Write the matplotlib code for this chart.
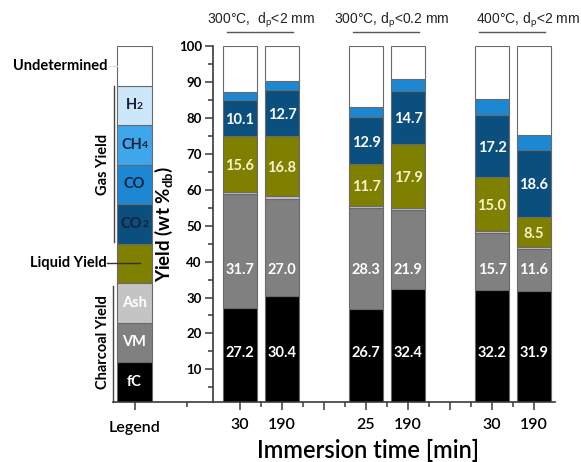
import matplotlib
matplotlib.use('Agg')
import matplotlib.pyplot as plt
import numpy as np
from matplotlib.transforms import blended_transform_factory

plt.rcParams['font.family'] = ['Lato', 'DejaVu Sans']
plt.rcParams['mathtext.fontset'] = 'custom'
plt.rcParams['mathtext.rm'] = 'Lato'
plt.rcParams['mathtext.it'] = 'Lato:italic'
plt.rcParams['mathtext.bf'] = 'Lato:bold'

# ---------------- data ----------------
times = ['30', '190', '25', '190', '30', '190']
groups = ['300°C,  d$_\\mathrm{p}$<2 mm', '300°C, d$_\\mathrm{p}$<0.2 mm', '400°C, d$_\\mathrm{p}$<2 mm']
fc = [27.2, 30.4, 26.7, 32.4, 32.2, 31.9]
vm = [31.7, 27.0, 28.3, 21.9, 15.7, 11.6]
ash = [0.4, 0.8, 0.5, 0.6, 0.6, 0.5]
liquid = [15.6, 16.8, 11.7, 17.9, 15.0, 8.5]
co2 = [10.1, 12.7, 12.9, 14.7, 17.2, 18.6]
co = [2.1, 2.6, 3.0, 3.2, 4.5, 4.1]

legend_items = ['fC', 'VM', 'Ash', 'Liquid', 'CO2', 'CO', 'CH4', 'H2', 'Undetermined']
legend_main = ['fC', 'VM', 'Ash', '', 'CO', 'CO', 'CH', 'H', '']
legend_sub = ['', '', '', '', '2', '', '4', '2', '']

# ---------------- styles ----------------
C = {'fC': '#000000', 'VM': '#808080', 'Ash': '#c4c4c4', 'Liquid': '#7f7f00',
     'CO2': '#0b4f7e', 'CO': '#1c88d4', 'CH4': '#3ea6ea', 'H2': '#cde7fa',
     'Undetermined': '#ffffff'}
txtcol = {'fC': 'white', 'VM': 'white', 'Ash': 'white', 'Liquid': 'white',
          'CO2': '#1a1f3a', 'CO': '#1a1f3a', 'CH4': '#1a1f3a', 'H2': '#1a1f3a',
          'Undetermined': 'k'}
EDGE = '#6a6a6a'
AX = '#3a3a3a'

W, H = 581, 462
fig = plt.figure(figsize=(W / 100, H / 100), dpi=100)
bot = (H - 401.7) / H
hgt = (401.7 - 46) / H
ax = fig.add_axes([213 / W, bot, (555 - 213) / W, hgt])
lax = fig.add_axes([113 / W, bot, 100 / W, hgt])

# ---------------- main bars ----------------
fc_a, vm_a, ash_a, liq_a, co2_a, co_a = map(np.array, (fc, vm, ash, liquid, co2, co))
und_a = 100 - (fc_a + vm_a + ash_a + liq_a + co2_a + co_a)
xpos = np.array([g * 3 + k for g in range(3) for k in range(2)])
bw = 0.83
stack = [('fC', fc_a), ('VM', vm_a), ('Ash', ash_a), ('Liquid', liq_a),
         ('CO2', co2_a), ('CO', co_a), ('Undetermined', und_a)]
bottom = np.zeros(len(xpos))
for name, vals in stack:
    ax.bar(xpos, vals, bw, bottom=bottom, color=C[name], edgecolor=EDGE,
           linewidth=0.8, zorder=2)
    if name in ('fC', 'VM', 'Liquid', 'CO2'):
        for x, b, v in zip(xpos, bottom, vals):
            if name == 'fC':
                y = 14.5
            elif name == 'VM':
                y = 37.6
            else:
                y = b + v / 2 - 0.6
            col = '#f4f4cc' if name == 'Liquid' else 'white'
            ax.text(x, y, f'{v:.1f}', ha='center', va='center', color=col,
                    fontsize=10.5, fontweight='bold', zorder=3)
    bottom = bottom + vals

ax.set_xlim(-0.643, 7.5)
ax.set_ylim(1, 100)
for s in ('top', 'right'):
    ax.spines[s].set_visible(False)
for s in ('left', 'bottom'):
    ax.spines[s].set_color(AX)
    ax.spines[s].set_linewidth(1.2)
ax.set_yticks(np.arange(10, 101, 10))
ax.set_yticks(np.arange(5, 100, 10), minor=True)
ax.set_yticklabels([str(v) for v in range(10, 101, 10)], fontweight='bold', fontsize=9.5)
lbls = [''] * 8
for x, t in zip(xpos, times):
    lbls[x] = t
ax.set_xticks(np.arange(8))
ax.set_xticklabels(lbls, fontsize=11.5, fontweight='semibold')
ax.set_xticks(np.arange(0.5, 7, 1), minor=True)
ax.tick_params(which='major', direction='out', length=6, width=1.1, color=AX, pad=2)
ax.tick_params(which='minor', direction='out', length=3.5, width=1.1, color=AX)
ax.tick_params(axis='x', which='major', pad=6)
ax.set_ylabel('Yield (wt %$_{\\mathbf{db}}$)', fontsize=13.5, fontweight='bold', labelpad=3)
ax.set_xlabel('Immersion time [min]', fontsize=17, fontweight='semibold')
ax.xaxis.set_label_coords((368 - 213) / 342, -0.105)

# group headers
tr = blended_transform_factory(ax.transData, fig.transFigure)
hdr_dx = [0.0, 0.12, 0.36]
for g, lab in enumerate(groups):
    cx = g * 3 + 0.5
    ax.text(cx + hdr_dx[g], 1 - 20 / H, lab, transform=tr, ha='center', va='center',
            fontsize=10, family=['Liberation Sans', 'DejaVu Sans'], color='#222222')
    ax.plot([cx - 0.8, cx + 0.75], [1 - 32 / H] * 2, transform=tr, color='#555555',
            lw=1, clip_on=False)

# ---------------- legend bar ----------------
for i, name in enumerate(legend_items):
    lax.bar(21.5, 1, 35, bottom=i, color=C[name], edgecolor=EDGE, linewidth=0.8)
    if legend_main[i]:
        xc = 21.5 - (3 if legend_sub[i] else 0)
        t = lax.text(xc, i + 0.5, legend_main[i], ha='center', va='center',
                     color=txtcol[name], fontsize=10.5, fontweight='bold')
        if legend_sub[i]:
            lax.annotate(legend_sub[i], xy=(1.0, 0.12), xycoords=t, ha='left',
                         va='bottom', color=txtcol[name], fontsize=7.5,
                         fontweight='bold')
lax.set_xlim(0, 100)
lax.set_ylim(0, 9)
for s in ('top', 'right', 'left'):
    lax.spines[s].set_visible(False)
lax.spines['bottom'].set_color(AX)
lax.spines['bottom'].set_linewidth(1.2)
lax.set_yticks([])
lax.set_xticks([22])
lax.set_xticklabels(['Legend'], fontsize=11.5, fontweight='semibold')
lax.set_xticks([74], minor=True)
lax.tick_params(which='major', direction='out', length=6, width=1.1, color=AX, pad=8)
lax.tick_params(which='minor', direction='out', length=3.5, width=1.1, color=AX)
lax.patch.set_alpha(0)

# brackets & group labels
lax.plot([1, 1], [4.05, 7.98], color='#444444', lw=1, clip_on=False)
lax.plot([0, 0], [0, 2.93], color='#444444', lw=1, clip_on=False)
lax.text(-10, 6, 'Gas Yield', rotation=90, ha='center', va='center',
         fontsize=10.5, fontweight='bold')
lax.text(-10, 1.5, 'Charcoal Yield', rotation=90, ha='center', va='center',
         fontsize=10.5, fontweight='bold')
lax.text(-5, 8.5, 'Undetermined', ha='right', va='center', fontsize=10.5, fontweight='bold')
lax.plot([-4, 4], [8.5, 8.5], color='#dddddd', lw=0.8, clip_on=False)
lax.text(-6, 3.5, 'Liquid Yield', ha='right', va='center', fontsize=10.5, fontweight='bold')
lax.plot([-6, 27], [3.5, 3.5], color='#333333', lw=1, clip_on=False, zorder=3)

fig.savefig('out.png', dpi=100)
